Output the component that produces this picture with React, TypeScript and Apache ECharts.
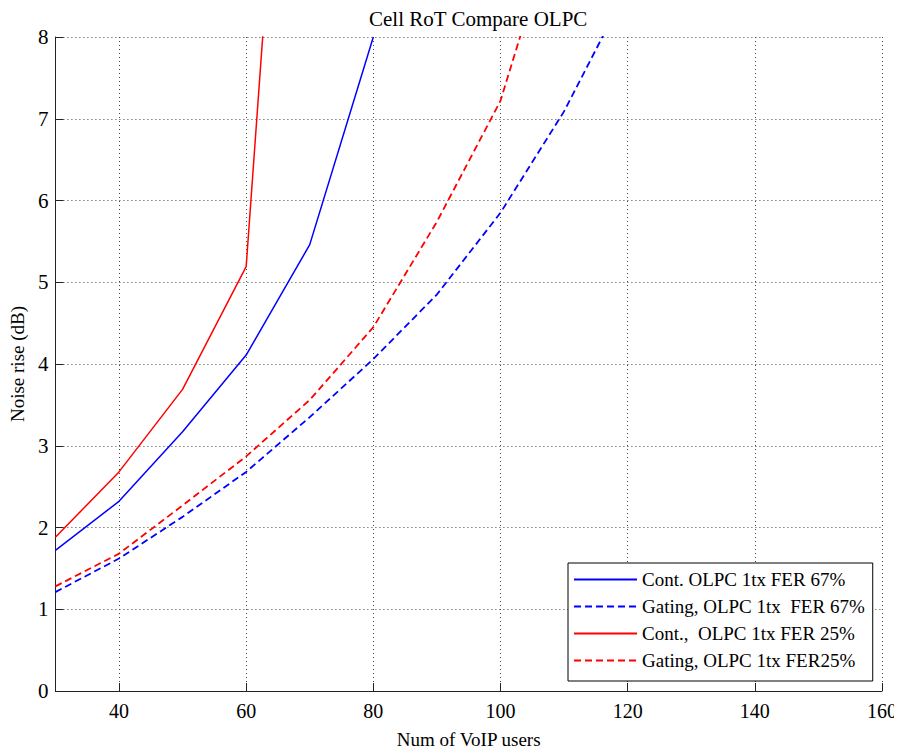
import React, { useEffect, useRef } from "react";
import * as echarts from "echarts";

const xUsers = [30, 40, 50, 60, 70, 80, 90, 100, 110, 120];
const contFer67 = [1.72, 2.32, 3.17, 4.11, 5.46, 8.0];
const gatingFer67 = [1.21, 1.62, 2.13, 2.68, 3.35, 4.06, 4.85, 5.85, 7.09, 8.6];
const contFer25 = [1.88, 2.68, 3.69, 5.19, 16.0];
const gatingFer25 = [1.28, 1.68, 2.27, 2.87, 3.56, 4.45, 5.74, 7.22, 9.76];

const seriesNames = [
  "Cont. OLPC 1tx FER 67%",
  "Gating, OLPC 1tx  FER 67%",
  "Cont.,  OLPC 1tx FER 25%",
  "Gating, OLPC 1tx FER25%",
];

const titleText = "Cell RoT Compare OLPC";
const xName = "Num of VoIP users";
const yName = "Noise rise (dB)";

const pair = (vals: number[]) => vals.map((v, i) => [xUsers[i], v]);

export default function App() {
  const ref = useRef<HTMLDivElement>(null);
  useEffect(() => {
    if (!ref.current) return;
    const chart = echarts.init(ref.current, null, { renderer: "svg" });
    const font = "Liberation Serif";
    const mk = (name: string, data: number[], color: string, dashed: boolean) => ({
      name,
      type: "line",
      data: pair(data),
      symbol: "none",
      showSymbol: false,
      clip: true,
      lineStyle: {
        color,
        width: dashed ? 1.8 : 1.5,
        type: dashed ? [7, 4] : "solid",
      },
      itemStyle: { color },
    });
    chart.setOption({
      animation: false,
      backgroundColor: "#fff",
      title: {
        text: titleText,
        left: 364,
        top: 3,
        textStyle: { fontFamily: font, fontSize: 21, fontWeight: "normal", color: "#000" },
      },
      grid: { left: 53, right: 20, top: 37, bottom: 63, containLabel: false },
      legend: {
        orient: "vertical",
        left: 568,
        top: 563,
        padding: [7, 8, 11, 5],
        itemWidth: 63,
        itemHeight: 14,
        itemGap: 8,
        backgroundColor: "#fff",
        borderColor: "#000",
        borderWidth: 1,
        borderRadius: 0,
        selectedMode: false,
        itemStyle: { opacity: 0, borderWidth: 0 },
        data: seriesNames,
        textStyle: { fontFamily: font, fontSize: 19, color: "#000" },
      },
      xAxis: {
        type: "value",
        min: 30,
        max: 160,
        splitNumber: 6,
        name: xName,
        nameLocation: "middle",
        nameGap: 39,
        nameTextStyle: { fontFamily: font, fontSize: 19, color: "#000" },
        axisLine: { show: true, onZero: false, lineStyle: { color: "#222", width: 1 } },
        axisTick: { show: true, inside: true, length: 8, lineStyle: { color: "#222" } },
        axisLabel: {
          showMinLabel: false,
          margin: 10,
          fontFamily: font,
          fontSize: 20,
          color: "#000",
        },
        splitLine: { show: true, lineStyle: { color: "#444", type: [1, 3], width: 1 } },
      },
      yAxis: {
        type: "value",
        min: 0,
        max: 8,
        interval: 1,
        name: yName,
        nameLocation: "middle",
        nameGap: 25,
        nameTextStyle: { fontFamily: font, fontSize: 19, color: "#000" },
        axisLine: { show: true, onZero: false, lineStyle: { color: "#222", width: 1 } },
        axisTick: { show: true, inside: true, length: 8, lineStyle: { color: "#222" } },
        axisLabel: { margin: 7, fontFamily: font, fontSize: 21, color: "#000" },
        splitLine: { show: true, lineStyle: { color: "#444", type: [1, 3], width: 1 } },
      },
      series: [
        mk(seriesNames[0], contFer67, "#0000ff", false),
        mk(seriesNames[1], gatingFer67, "#0000ff", true),
        mk(seriesNames[2], contFer25, "#ff0000", false),
        mk(seriesNames[3], gatingFer25, "#ff0000", true),
      ],
    });
    return () => chart.dispose();
  }, []);
  return <div ref={ref} style={{ width: 902, height: 754, margin: -8 }} />;
}
